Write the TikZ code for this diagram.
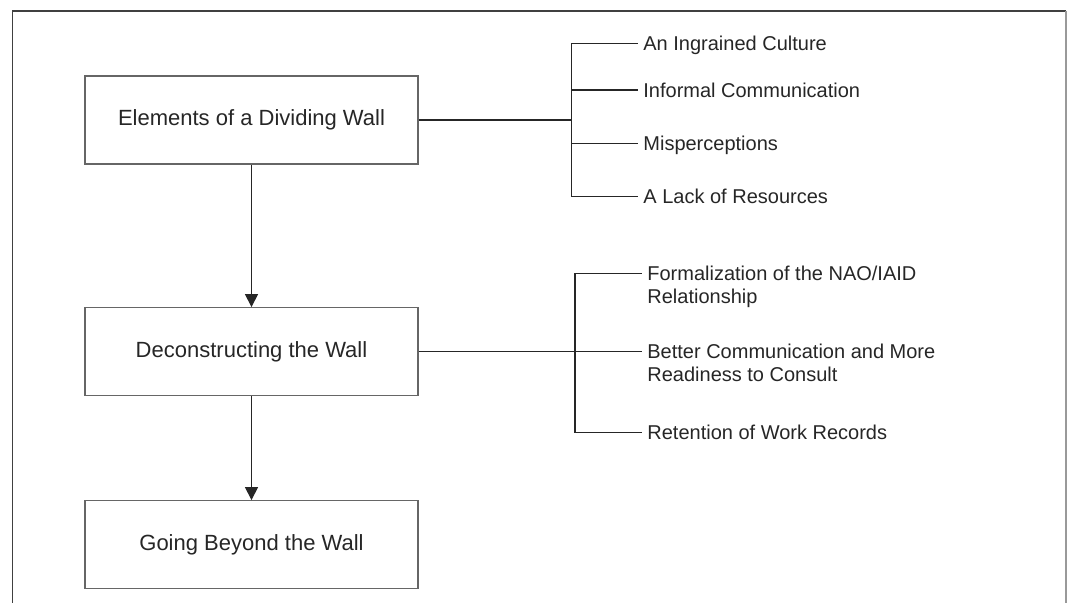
\documentclass[tikz,border=0pt]{standalone}
\usepackage{fontspec}
\setmainfont{Liberation Sans}
\usetikzlibrary{arrows.meta}
\begin{document}
\begin{tikzpicture}[
                x = 0.5pt, y = -0.5pt,
                box/.style = {draw = black!60, line width = 0.6pt, minimum width = 166.5pt, minimum height = 44pt, inner sep = 0pt, text = black!85, font = \fontsize{11}{13}\selectfont},
                item/.style = {anchor = base west, inner xsep = 2.5pt, inner ysep = 0pt, align = left, text = black!85, font = \fontsize{10}{11.5}\selectfont},
                conn/.style = {draw = black!85, line width = 0.6pt},
                arr/.style = {conn, -{Triangle[length = 6.5pt, width = 6.5pt]}},
            ]
            \useasboundingbox (0,0) rectangle (1067,603);
            \draw[line width = 0.65pt, black!75] (12.5,603) -- (12.5,11) -- (1066,11);
            \draw[line width = 0.65pt, black!40] (1066,11) -- (1066,603);

            \node (elem) [box] at (251.5,120) {Elements of a Dividing Wall};
            \node (decon) [box] at (251.5,351.7) {Deconstructing the Wall};
            \node (beyond) [box] at (251.5,544.7) {Going Beyond the Wall};

            \path[arr] (elem) -- (decon);
            \path[arr] (decon) -- (beyond);

            % first group
            \coordinate (t1) at (571.5,120);
            \coordinate (c1) at (571.5,43.3);
            \coordinate (c2) at (571.5,90);
            \coordinate (c3) at (571.5,143.3);
            \coordinate (c4) at (571.5,196.7);

            \node (culture) [item] at (638,50.5) {An Ingrained Culture};
            \node (informal) [item] at (638,97.2) {Informal Communication};
            \node (misper) [item] at (638,150.5) {Misperceptions};
            \node (lack) [item] at (638,203.9) {A Lack of Resources};

            \path[conn] (elem) -- (t1);
            \path[conn] (c1) -- (c4);
            \path[conn] (c1) -- (c1 -| culture.base west);
            \path[conn] (c2) -- (c2 -| informal.base west);
            \path[conn] (c3) -- (c3 -| misper.base west);
            \path[conn] (c4) -- (c4 -| lack.base west);

            % second group
            \coordinate (d1) at (575,273.3);
            \coordinate (d2) at (575,351.7);
            \coordinate (d3) at (575,432.7);

            \node (formal) [item] at (642,303.5) {Formalization of the NAO/IAID\\Relationship};
            \node (better) [item] at (642,381.9) {Better Communication and More\\Readiness to Consult};
            \node (records) [item] at (642,439.9) {Retention of Work Records};

            \path[conn] (d1) -- (d3);
            \path[conn] (d1) -- (d1 -| formal.base west);
            \path[conn] (decon) -- (d2 -| better.base west);
            \path[conn] (d3) -- (d3 -| records.base west);
        \end{tikzpicture}
\end{document}
